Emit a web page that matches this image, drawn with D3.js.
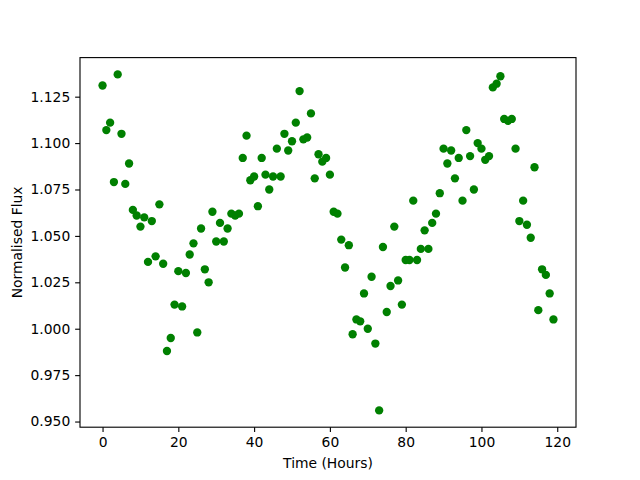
<!DOCTYPE html>
<html>
<head>
<meta charset="utf-8">
<script src="https://cdn.jsdelivr.net/npm/d3@7"></script>
<style>
  body { margin: 0; background: #fff; }
  text { font-family: "DejaVu Sans", sans-serif; }
</style>
</head>
<body>
<svg id="chart"></svg>
<script>
// hours 0..119, one reading each
const hours = d3.range(0, 120)
const flux = [
    1.131, 1.107, 1.111, 1.079, 1.137, 1.105, 1.078, 1.089, 1.064, 1.061,
    1.055, 1.060, 1.036, 1.058, 1.039, 1.067, 1.035, 0.988, 0.995, 1.013,
    1.031, 1.012, 1.030, 1.040, 1.046, 0.998, 1.054, 1.032, 1.025, 1.063,
    1.047, 1.057, 1.047, 1.054, 1.062, 1.061, 1.062, 1.092, 1.104, 1.080,
    1.082, 1.066, 1.092, 1.083, 1.075, 1.082, 1.097, 1.082, 1.105, 1.096,
    1.101, 1.111, 1.128, 1.102, 1.103, 1.116, 1.081, 1.094, 1.090, 1.092,
    1.083, 1.063, 1.062, 1.048, 1.033, 1.045, 0.997, 1.005, 1.004, 1.019,
    1.000, 1.028, 0.992, 0.956, 1.044, 1.009, 1.023, 1.055, 1.026, 1.013,
    1.037, 1.037, 1.069, 1.037, 1.043, 1.053, 1.043, 1.057, 1.062, 1.073,
    1.097, 1.089, 1.096, 1.081, 1.092, 1.069, 1.107, 1.093, 1.075, 1.100,
    1.097, 1.091, 1.093, 1.130, 1.132, 1.136, 1.113, 1.112, 1.113, 1.097,
    1.058, 1.069, 1.056, 1.049, 1.087, 1.010, 1.032, 1.029, 1.019, 1.005
]
const x_ticks = [0, 20, 40, 60, 80, 100, 120]
const y_ticks = [0.950, 0.975, 1.000, 1.025, 1.050, 1.075, 1.100, 1.125]

const width = 640, height = 480
const ax_left = 80, ax_right = 576, ax_top = 57.6, ax_bottom = 427.2
const pt = 100 / 72  // matplotlib points -> px at dpi 100

let svg = d3.select('#chart')
    .attr("width", width)
    .attr("height", height)

// matplotlib-ish 5% margins
function padded(ext) {
    let m = (ext[1] - ext[0]) * 0.05
    return [ext[0] - m, ext[1] + m]
}

let x = d3.scaleLinear().domain(padded(d3.extent(hours))).range([ax_left, ax_right])
let y = d3.scaleLinear().domain(padded(d3.extent(flux))).range([ax_bottom, ax_top])

let data = hours.map((h, i) => ({h: h, f: flux[i]}))

svg.append("g")
    .selectAll("circle")
    .data(data)
    .enter()
    .append("circle")
    .attr("cx", d => x(d.h))
    .attr("cy", d => y(d.f))
    .attr("r", 3 * pt)
    .attr("fill", "#008000")

let xAxis = svg.append("g")
    .attr("transform", `translate(0,${ax_bottom})`)
    .call(d3.axisBottom(x).tickValues(x_ticks).tickFormat(d3.format("d"))
        .tickSize(3.5 * pt).tickPadding(3.5 * pt))

let yAxis = svg.append("g")
    .attr("transform", `translate(${ax_left},0)`)
    .call(d3.axisLeft(y).tickValues(y_ticks).tickFormat(d3.format(".3f"))
        .tickSize(3.5 * pt).tickPadding(3.5 * pt))

for (let ax of [xAxis, yAxis]) {
    ax.select(".domain").remove()
    ax.selectAll("line").attr("stroke", "#000").attr("stroke-width", 0.8 * pt)
    ax.selectAll("text")
        .attr("fill", "#000")
        .style("font-family", "'DejaVu Sans', sans-serif")
        .style("font-size", (10 * pt) + "px")
}

// frame
svg.append("rect")
    .attr("x", ax_left)
    .attr("y", ax_top)
    .attr("width", ax_right - ax_left)
    .attr("height", ax_bottom - ax_top)
    .attr("fill", "none")
    .attr("stroke", "#000")
    .attr("stroke-width", 0.8 * pt)

svg.append("text")
    .attr("x", (ax_left + ax_right) / 2)
    .attr("y", 468)
    .attr("text-anchor", "middle")
    .style("font-size", (10 * pt) + "px")
    .text("Time (Hours)")

svg.append("text")
    .attr("transform", `translate(22,${(ax_top + ax_bottom) / 2}) rotate(-90)`)
    .attr("text-anchor", "middle")
    .style("font-size", (10 * pt) + "px")
    .text("Normalised Flux")
</script>
</body>
</html>
